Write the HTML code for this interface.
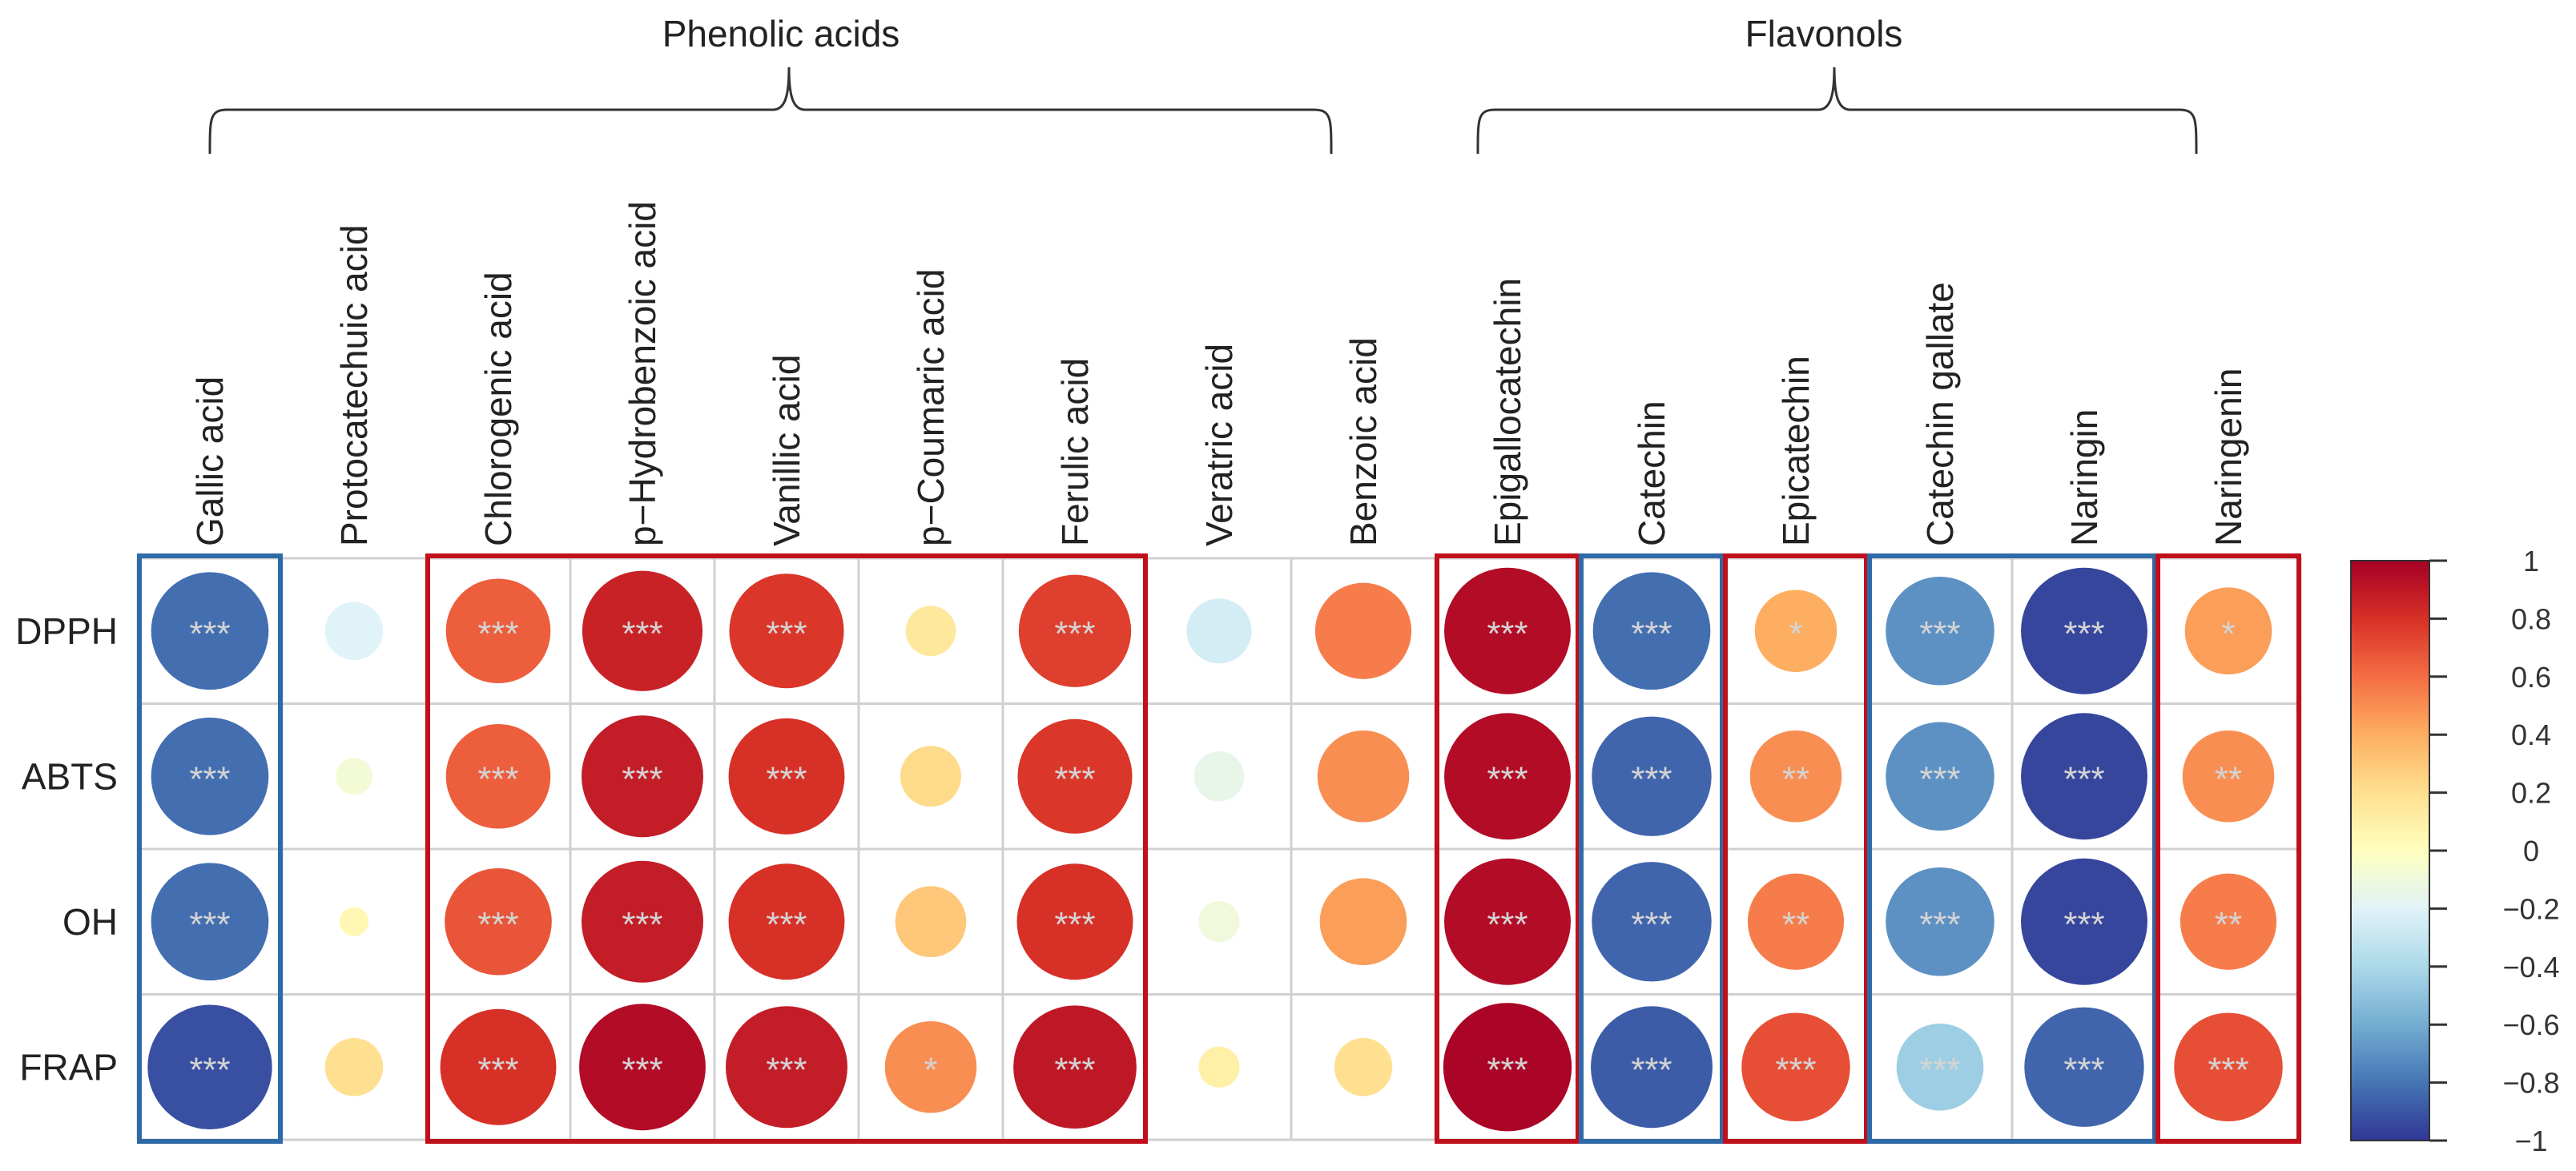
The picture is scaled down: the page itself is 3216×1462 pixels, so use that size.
<!DOCTYPE html>
<html><head><meta charset="utf-8"><style>
html,body{margin:0;padding:0;background:#fff;}
svg{display:block;font-family:"Liberation Sans",Arial,sans-serif;}
</style></head><body>
<svg id="chart" width="3216" height="1462" viewBox="0 0 3216 1462">
<g id="braces"></g>
<g id="grid"></g>
<g id="cells"></g>
<g id="boxes"></g>
<g id="labels"></g>
<g id="cbar"></g>
</svg>
<script>
const columns = ["Gallic acid","Protocatechuic acid","Chlorogenic acid","p\u2212Hydrobenzoic acid","Vanillic acid","p\u2212Coumaric acid","Ferulic acid","Veratric acid","Benzoic acid","Epigallocatechin","Catechin","Epicatechin","Catechin gallate","Naringin","Naringenin"];
const rows = ["DPPH","ABTS","OH","FRAP"];
const dpph = [-0.82,-0.2,0.65,0.86,0.78,0.15,0.75,-0.25,0.55,0.95,-0.82,0.4,-0.7,-0.95,0.45];
const abts = [-0.82,-0.08,0.65,0.88,0.8,0.22,0.78,-0.15,0.5,0.95,-0.85,0.5,-0.7,-0.95,0.5];
const oh   = [-0.82,0.05,0.68,0.88,0.8,0.3,0.8,-0.1,0.45,0.95,-0.85,0.55,-0.7,-0.95,0.55];
const frap = [-0.92,0.2,0.8,0.95,0.88,0.5,0.9,0.1,0.2,0.98,-0.88,0.7,-0.45,-0.85,0.7];
const starsDpph = ["***","","***","***","***","","***","","","***","***","*","***","***","*"];
const starsAbts = ["***","","***","***","***","","***","","","***","***","**","***","***","**"];
const starsOh   = ["***","","***","***","***","","***","","","***","***","**","***","***","**"];
const starsFrap = ["***","","***","***","***","*","***","","","***","***","***","***","***","***"];
const cbTicks = [1,0.8,0.6,0.4,0.2,0,-0.2,-0.4,-0.6,-0.8,-1];
const cbTickLabels = ["1","0.8","0.6","0.4","0.2","0","\u22120.2","\u22120.4","\u22120.6","\u22120.8","\u22121"];
const boxStarts = [0,2,9,10,11,12,14];
const boxEnds   = [0,6,9,10,11,13,14];
const boxSigns  = ["neg","pos","pos","neg","pos","neg","pos"];
const groupNames = ["Phenolic acids","Flavonols"];

const NS="http://www.w3.org/2000/svg";
const X0=172, CW=180, Y0=697, RH=181.5;
const xC = i => X0 + CW*i + CW/2;
const yC = j => Y0 + RH*j + RH/2;
const pal=["#313695","#4575b4","#74add1","#abd9e9","#e0f3f8","#ffffbf","#fee090","#fdae61","#f46d43","#d73027","#a50026"];
function hex(h){return [1,3,5].map(k=>parseInt(h.substr(k,2),16));}
function color(v){const t=(v+1)/2*10;const i=Math.min(9,Math.floor(t));const f=t-i;const a=hex(pal[i]),b=hex(pal[i+1]);return "rgb("+a.map((c,k)=>Math.round(c+(b[k]-c)*f)).join(",")+")";}
function mk(tag,attrs,parent){const e=document.createElementNS(NS,tag);for(const k in attrs)e.setAttribute(k,attrs[k]);parent.appendChild(e);return e;}

const G=document.getElementById("grid");
for(let i=0;i<=columns.length;i++){const l=mk("line",{x1:X0+CW*i,x2:X0+CW*i,y1:Y0,y2:Y0+RH*4,stroke:"#d0d0d0","stroke-width":3},G);

}
for(let j=0;j<=rows.length;j++){const l=mk("line",{x1:X0,x2:X0+CW*columns.length,y1:Y0+RH*j,y2:Y0+RH*j,stroke:"#d0d0d0","stroke-width":3},G);

}

const C=document.getElementById("cells");
const series=[dpph,abts,oh,frap], stars=[starsDpph,starsAbts,starsOh,starsFrap];
const RMAX=81;
series.forEach((arr,j)=>{arr.forEach((v,i)=>{
 const c=mk("circle",{cx:xC(i),cy:yC(j),r:RMAX*Math.sqrt(Math.abs(v)),fill:color(v)},C);
 
 
 if(stars[j][i]){const t=mk("text",{x:xC(i),y:yC(j)+18,"text-anchor":"middle","font-size":44,fill:"#d4d4d4"},C);t.textContent=stars[j][i];
 
 }
});});

const B=document.getElementById("boxes");
boxStarts.forEach((s,k)=>{const e=boxEnds[k];
 const r=mk("rect",{x:X0+CW*s+2,y:Y0-3,width:CW*(e-s+1)-4,height:RH*4+5,fill:"none",stroke:boxSigns[k]==="pos"?"#c0101c":"#2f6aa8","stroke-width":6},B);
 
 });

const L=document.getElementById("labels");
columns.forEach((n,i)=>{const t=mk("text",{transform:"translate("+(xC(i)+16)+",682) rotate(-90)","font-size":46,fill:"#222"},L);t.textContent=n;
 
 });
rows.forEach((n,j)=>{const t=mk("text",{x:147,y:yC(j)+16,"text-anchor":"end","font-size":46,fill:"#222"},L);t.textContent=n;
 
 });

const BR=document.getElementById("braces");
function brace(x0,x1,xp,label,lx){
 const yb=192,yh=137,yp=84;
 const d="M"+x0+","+yb+" C"+x0+","+(yh+10)+" "+x0+","+yh+" "+(x0+22)+","+yh+" L"+(xp-20)+","+yh+" C"+(xp-4)+","+yh+" "+xp+","+(yh-20)+" "+xp+","+yp+
 " M"+xp+","+yp+" C"+xp+","+(yh-20)+" "+(xp+4)+","+yh+" "+(xp+20)+","+yh+" L"+(x1-22)+","+yh+" C"+x1+","+yh+" "+x1+","+(yh+10)+" "+x1+","+yb;
 const p=mk("path",{d:d,fill:"none",stroke:"#333","stroke-width":3},BR);
 
 
 const t=mk("text",{x:lx,y:58,"text-anchor":"middle","font-size":46,fill:"#222"},BR);t.textContent=label;
 
 
}
brace(262,1662,985,groupNames[0],975);
brace(1845,2742,2290,groupNames[1],2277);

const CB=document.getElementById("cbar");
const CBT=700, CBB=1424, CBX=2935, CBW=98;
const defs=mk("defs",{},CB);const lg=mk("linearGradient",{id:"cg",x1:0,y1:1,x2:0,y2:0},defs);
pal.forEach((c,k)=>mk("stop",{offset:(k/10),"stop-color":c},lg));
const cr=mk("rect",{x:CBX,y:CBT,width:CBW,height:CBB-CBT,fill:"url(#cg)",stroke:"#333","stroke-width":2},CB);


const cy=v=>CBB-(v+1)/2*(CBB-CBT);
cbTicks.forEach((v,k)=>{const l=mk("line",{x1:CBX+CBW,x2:CBX+CBW+22,y1:cy(v),y2:cy(v),stroke:"#333","stroke-width":3},CB);
 
 
 const t=mk("text",{x:3160,y:cy(v)+13,"text-anchor":"middle","font-size":36,fill:"#333"},CB);t.textContent=cbTickLabels[k];
 
 });
</script>
</body></html>
